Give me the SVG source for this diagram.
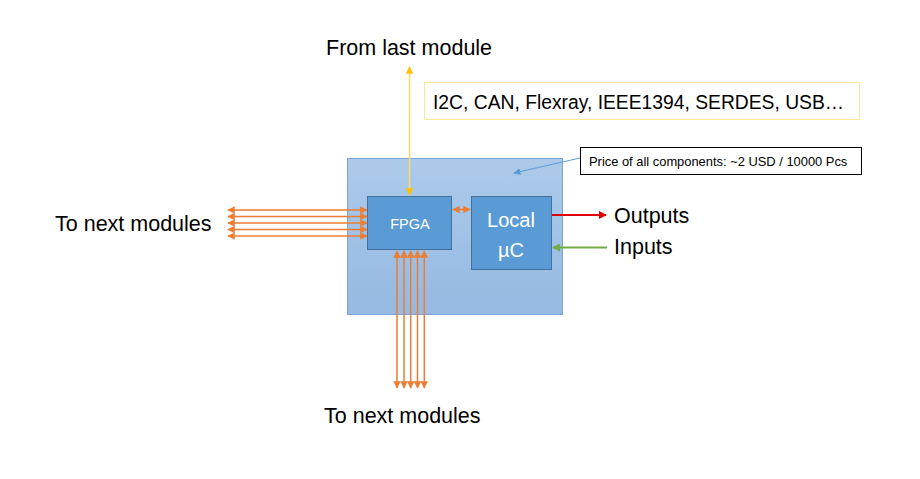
<svg xmlns="http://www.w3.org/2000/svg" width="920" height="479" viewBox="0 0 920 479">
<style>
.t{font-family:"Liberation Sans",Arial,sans-serif;fill:#000}
.w{font-family:"Liberation Sans",Arial,sans-serif;fill:#fff}
.o{stroke:#ed7d31;stroke-width:1.5;fill:none}
</style>
<defs>
<linearGradient id="g" x1="0" y1="0" x2="0" y2="1"><stop offset="0" stop-color="#adcaea"/><stop offset="1" stop-color="#95b9e2"/></linearGradient>
<marker id="ao" viewBox="0 0 10 10" refX="9" refY="5" markerWidth="5" markerHeight="5" orient="auto-start-reverse"><path d="M0,0L10,5L0,10z" fill="#ed7d31"/></marker>
<marker id="ay" viewBox="0 0 10 10" refX="9" refY="5" markerWidth="5" markerHeight="5" orient="auto-start-reverse"><path d="M0,0L10,5L0,10z" fill="#ffc000"/></marker>
<marker id="ar" viewBox="0 0 10 10" refX="9" refY="5" markerWidth="4" markerHeight="4" orient="auto"><path d="M0,0L10,5L0,10z" fill="#e00000"/></marker>
<marker id="ag" viewBox="0 0 10 10" refX="9" refY="5" markerWidth="4" markerHeight="4" orient="auto"><path d="M0,0L10,5L0,10z" fill="#70ad47"/></marker>
<marker id="ab" viewBox="0 0 10 10" refX="9" refY="5" markerWidth="7" markerHeight="7" orient="auto"><path d="M0,0L10,5L0,10z" fill="#5b9bd5"/></marker>
</defs>
<rect width="920" height="479" fill="#fff"/>
<g id="module"><rect x="347.5" y="158.5" width="215" height="156" fill="url(#g)" stroke="#7aa5d6"/></g>
<g id="fpga"><rect x="367.5" y="196.5" width="84" height="53" fill="#5b9bd5" stroke="#41719c"/><text class="w" x="410" y="229" font-size="14.5" text-anchor="middle">FPGA</text></g>
<g id="uc"><rect x="471.5" y="196.5" width="80" height="73" fill="#5b9bd5" stroke="#41719c"/><text class="w" x="511" y="227" font-size="20" text-anchor="middle">Local</text><text class="w" x="511" y="257" font-size="20" text-anchor="middle">µC</text></g>
<g id="protocols"><rect x="424.5" y="82.5" width="435" height="37" fill="#fff" stroke="#ffe699"/><text class="t" x="433" y="109" font-size="19.3">I2C, CAN, Flexray, IEEE1394, SERDES, USB…</text></g>
<g id="price"><rect x="580.5" y="147.5" width="281" height="27" fill="#fff" stroke="#000"/><text class="t" x="589" y="165.5" font-size="12.9">Price of all components: ~2 USD / 10000 Pcs</text></g>
<g id="labels">
<text class="t" x="326" y="55" font-size="21.5">From last module</text>
<text class="t" x="55" y="231" font-size="21.5">To next modules</text>
<text class="t" x="324" y="423" font-size="21.5">To next modules</text>
<text class="t" x="614" y="223" font-size="21.5">Outputs</text>
<text class="t" x="614" y="254" font-size="21.5">Inputs</text>
</g>
<g id="connectors">
<line x1="409.5" y1="67" x2="409.5" y2="195" stroke="#ffd966" stroke-width="1.5" marker-start="url(#ay)" marker-end="url(#ay)"/>
<line class="o" x1="228" y1="210" x2="367" y2="210" marker-start="url(#ao)" marker-end="url(#ao)"/>
<line class="o" x1="228" y1="216.5" x2="367" y2="216.5" marker-start="url(#ao)" marker-end="url(#ao)"/>
<line class="o" x1="228" y1="223" x2="367" y2="223" marker-start="url(#ao)" marker-end="url(#ao)"/>
<line class="o" x1="228" y1="229.5" x2="367" y2="229.5" marker-start="url(#ao)" marker-end="url(#ao)"/>
<line class="o" x1="228" y1="236" x2="367" y2="236" marker-start="url(#ao)" marker-end="url(#ao)"/>
<line class="o" x1="397" y1="251" x2="397" y2="388" marker-start="url(#ao)" marker-end="url(#ao)"/>
<line class="o" x1="404" y1="251" x2="404" y2="388" marker-start="url(#ao)" marker-end="url(#ao)"/>
<line class="o" x1="410.7" y1="251" x2="410.7" y2="388" marker-start="url(#ao)" marker-end="url(#ao)"/>
<line class="o" x1="417.5" y1="251" x2="417.5" y2="388" marker-start="url(#ao)" marker-end="url(#ao)"/>
<line class="o" x1="424.3" y1="251" x2="424.3" y2="388" marker-start="url(#ao)" marker-end="url(#ao)"/>
<line class="o" x1="453" y1="209.5" x2="470" y2="209.5" marker-start="url(#ao)" marker-end="url(#ao)"/>
<line x1="552" y1="215" x2="606" y2="215" stroke="#e00000" stroke-width="2" marker-end="url(#ar)"/>
<line x1="607" y1="247.5" x2="553" y2="247.5" stroke="#70ad47" stroke-width="2" marker-end="url(#ag)"/>
<line x1="580" y1="158" x2="514" y2="173" stroke="#5b9bd5" stroke-width="1" marker-end="url(#ab)"/>
</g>
</svg>
